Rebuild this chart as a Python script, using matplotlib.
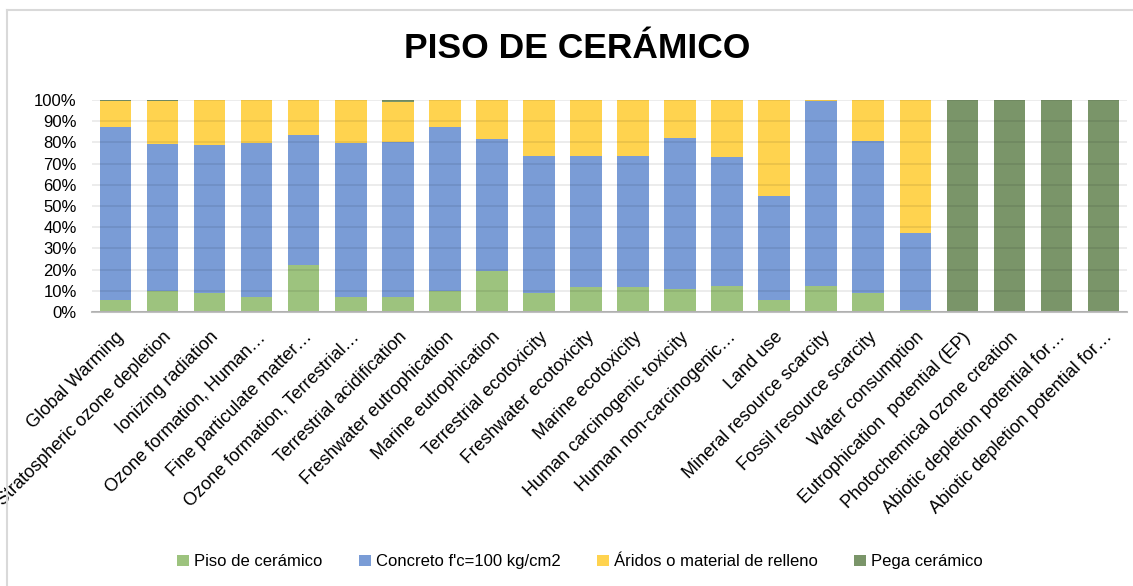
import numpy as np
import matplotlib
matplotlib.use("Agg")
import matplotlib.pyplot as plt
from matplotlib.lines import Line2D
from matplotlib.ticker import PercentFormatter

plt.rcParams['font.family'] = ['Liberation Sans', 'DejaVu Sans']

# categorias de impacto (etiquetas tal como aparecen en el eje)
categories = [
    "Global Warming",
    "Stratospheric ozone depletion",
    "Ionizing radiation",
    "Ozone formation, Human\u2026",
    "Fine particulate matter\u2026",
    "Ozone formation, Terrestrial\u2026",
    "Terrestrial acidification",
    "Freshwater eutrophication",
    "Marine eutrophication",
    "Terrestrial ecotoxicity",
    "Freshwater ecotoxicity",
    "Marine ecotoxicity",
    "Human carcinogenic toxicity",
    "Human non-carcinogenic\u2026",
    "Land use",
    "Mineral resource scarcity",
    "Fossil resource scarcity",
    "Water consumption",
    "Eutrophication  potential (EP)",
    "Photochemical ozone creation",
    "Abiotic depletion potential for\u2026",
    "Abiotic depletion potential for\u2026",
]

series_names = ["Piso de cerámico", "Concreto f'c=100 kg/cm2",
                "Áridos o material de relleno", "Pega cerámico"]

# porcentajes
piso = [5.5, 9.9, 9.0, 7.1, 22.0, 7.1, 7.1, 9.9, 19.2, 9.0, 11.6,
        11.6, 11.0, 12.1, 5.5, 12.1, 9.0, 1.1, 0, 0, 0, 0]
concreto = [81.6, 69.2, 69.6, 72.5, 61.6, 72.5, 72.9, 77.2, 62.6, 64.6, 62.0,
            62.1, 71.2, 61.2, 49.4, 87.4, 71.7, 36.3, 0, 0, 0, 0]
aridos = [12.4, 20.6, 21.4, 20.4, 16.4, 20.4, 19.1, 12.9, 18.2, 26.4, 26.4,
          26.3, 17.8, 26.7, 45.1, 0.5, 19.3, 62.6, 0, 0, 0, 0]
pega = [0.5, 0.3, 0, 0, 0, 0, 0.9, 0, 0, 0, 0,
        0, 0, 0, 0, 0, 0, 0, 100, 100, 100, 100]

colors = ['#9DC37E', '#7A9CD6', '#FFD34F', '#7A9569']

fig = plt.figure(figsize=(11.33, 5.86), dpi=100)
ax = fig.add_axes([0.0812, 0.4676, 0.9135, 0.3618])

x = np.arange(len(categories))
bottom = np.zeros(len(categories))
for name, vals, col in zip(series_names, [piso, concreto, aridos, pega], colors):
    vals = np.array(vals, dtype=float)
    ax.bar(x, vals, 0.67, bottom=bottom, color=col, label=name, zorder=2)
    bottom += vals

ax.set_xlim(-0.5, len(categories) - 0.5)
ax.set_ylim(0, 100)
ax.set_yticks(np.arange(0, 101, 10))
ax.yaxis.set_major_formatter(PercentFormatter(decimals=0))
ax.grid(axis='y', color='black', alpha=0.09, linewidth=1.2, zorder=3)
ax.set_axisbelow(False)
for s in ['top', 'right', 'left']:
    ax.spines[s].set_visible(False)
ax.spines['bottom'].set_color('#BFBFBF')
ax.spines['bottom'].set_linewidth(1.5)
ax.tick_params(axis='both', length=0, labelsize=12, colors='#000000')
ax.tick_params(axis='y', pad=11)
ax.set_xticks(x)
ax.set_xticklabels(categories, rotation=45, ha='right', va='top',
                   rotation_mode='anchor', fontsize=13)
ax.tick_params(axis='x', pad=12)

fig.text(0.509, 0.918, "PISO DE CERÁMICO", ha='center', va='center',
         fontsize=25.5, fontweight='bold')

ax.legend(loc='center', bbox_to_anchor=(0.512, 0.041),
          bbox_transform=fig.transFigure, ncol=4, frameon=False,
          fontsize=12, handlelength=0.7, handleheight=0.7,
          handletextpad=0.3, columnspacing=2.2)

# borde del area del grafico
fig.add_artist(Line2D([7 / 1133, 7 / 1133], [0, 1 - 10 / 586],
                      transform=fig.transFigure, color='#D9D9D9', linewidth=1.5))
fig.add_artist(Line2D([7 / 1133, 1], [1 - 10 / 586, 1 - 10 / 586],
                      transform=fig.transFigure, color='#D9D9D9', linewidth=1.5))

fig.savefig("out.png", dpi=100)
